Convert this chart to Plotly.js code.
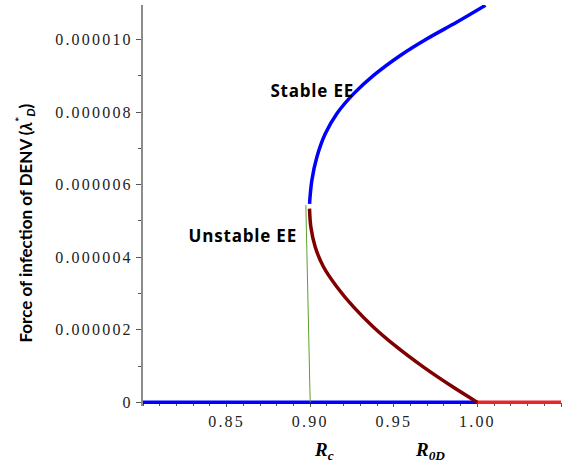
<!DOCTYPE html>
<html>
<head>
<meta charset="utf-8">
<script src="https://cdn.plot.ly/plotly-3.0.1.min.js"></script>
<style>
  html, body { margin: 0; padding: 0; background: #fff; }
  .xtick text, .ytick text { letter-spacing: 2.2px; }
  .annotation[data-index="0"] text, .annotation[data-index="1"] text { letter-spacing: 0.8px; }
</style>
</head>
<body>
<div id="chart" style="width:577px;height:466px;"></div>
<script>
// Stable endemic equilibrium branch (upper)
const stableX = [0.8996, 0.9010, 0.9040, 0.9090, 0.9160, 0.9259, 0.9379, 0.9539, 0.9699, 0.9878, 1.0048];
const stableY = [5.47e-6, 6.12e-6, 6.76e-6, 7.40e-6, 7.96e-6, 8.50e-6, 9.01e-6, 9.56e-6, 10.02e-6, 10.48e-6, 10.94e-6];
// Unstable endemic equilibrium branch (lower)
const unstableX = [0.8996, 0.9004, 0.9030, 0.9080, 0.9160, 0.9259, 0.9379, 0.9519, 0.9678, 0.9838, 1.0000];
const unstableY = [5.34e-6, 4.83e-6, 4.28e-6, 3.73e-6, 3.18e-6, 2.63e-6, 2.07e-6, 1.52e-6, 0.97e-6, 0.47e-6, 0];
// Disease-free equilibrium: stable (R0D < 1) and unstable (R0D > 1)
const dfeStableX = [0.80, 1.00];
const dfeStableY = [0, 0];
const dfeUnstableX = [1.00, 1.05];
const dfeUnstableY = [0, 0];
// Green marker line at Rc
const rcLineX = [0.8974, 0.9000];
const rcLineY = [5.44e-6, 0];

const xTickVals = [0.85, 0.90, 0.95, 1.00, 1.05];
const xTickText = ["0.85", "0.90", "0.95", "1.00", "1.05"];
const yTickVals = [0, 2e-6, 4e-6, 6e-6, 8e-6, 10e-6];
const yTickText = ["0", "0.000002", "0.000004", "0.000006", "0.000008", "0.000010"];

const yMin = -0.1e-6, yMax = 10.95e-6;
const xAxisPos = (0 - yMin) / (yMax - yMin);

const traces = [
  {x: dfeStableX, y: dfeStableY, mode: 'lines', line: {color: '#0000ff', width: 3.5}},
  {x: dfeUnstableX, y: dfeUnstableY, mode: 'lines', line: {color: '#e8262a', width: 3.5}},
  {x: rcLineX, y: rcLineY, mode: 'lines', line: {color: '#5aa02c', width: 1}},
  {x: unstableX, y: unstableY, mode: 'lines', line: {color: '#800000', width: 3.5, shape: 'spline', smoothing: 1}},
  {x: stableX, y: stableY, mode: 'lines', line: {color: '#0000ff', width: 3.5, shape: 'spline', smoothing: 1}}
];

const tickFont = {family: '"Liberation Serif", "Times New Roman", serif', size: 16, color: '#222'};
const boldSans = {family: '"Open Sans", "Noto Sans", sans-serif', size: 17, color: '#000'};
const rFont = {family: '"Liberation Serif", "Times New Roman", serif', size: 19, color: '#000'};

const layout = {
  width: 577, height: 466,
  margin: {l: 143, r: 16, t: 5, b: 60},
  paper_bgcolor: '#fff', plot_bgcolor: '#fff',
  showlegend: false,
  xaxis: {
    range: [0.80, 1.05],
    tickvals: xTickVals, ticktext: xTickText,
    tickfont: tickFont,
    showgrid: false, zeroline: false,
    showline: true, linecolor: '#8c8c8c', linewidth: 2,
    ticks: 'outside', ticklen: 4, tickwidth: 1, tickcolor: '#555',
    minor: {dtick: 0.01, tick0: 0.80, ticks: 'outside', ticklen: 3, tickcolor: '#555', showgrid: false},
    anchor: 'free', position: xAxisPos,
    layer: 'below traces',
    fixedrange: true
  },
  yaxis: {
    range: [yMin, yMax],
    tickvals: yTickVals, ticktext: yTickText,
    tickfont: tickFont,
    showgrid: false, zeroline: false,
    showline: true, linecolor: '#8c8c8c', linewidth: 2,
    ticks: 'outside', ticklen: 5, tickwidth: 1, tickcolor: '#555',
    minor: {dtick: 1e-6, tick0: 0, ticks: 'outside', ticklen: 3, tickcolor: '#555', showgrid: false},
    layer: 'below traces',
    fixedrange: true
  },
  annotations: [
    {x: 0.9010, y: 8.595e-6, xref: 'x', yref: 'y', text: '<b>Stable EE</b>', showarrow: false, font: boldSans},
    {x: 0.8596, y: 4.60e-6, xref: 'x', yref: 'y', text: '<b>Unstable EE</b>', showarrow: false, font: boldSans},
    {x: -118 / 418, y: 0.455, xref: 'paper', yref: 'paper', xanchor: 'center', yanchor: 'middle', textangle: -90,
     text: '<b>Force of infection of DENV (<i>λ</i><sup>*</sup><sub><i>D</i></sub>)</b>',
     showarrow: false, font: {family: 'Lato, "Noto Sans", sans-serif', size: 17, color: '#000'}},
    {x: 0.9084, y: -0.078, xref: 'x', yref: 'paper', yanchor: 'top', text: '<b><i>R<sub>c</sub></i></b>', showarrow: false, font: rFont},
    {x: 0.9719, y: -0.078, xref: 'x', yref: 'paper', yanchor: 'top', text: '<b><i>R<sub>0D</sub></i></b>', showarrow: false, font: rFont}
  ]
};

Plotly.newPlot('chart', traces, layout, {displayModeBar: false, staticPlot: true});
</script>
</body>
</html>
